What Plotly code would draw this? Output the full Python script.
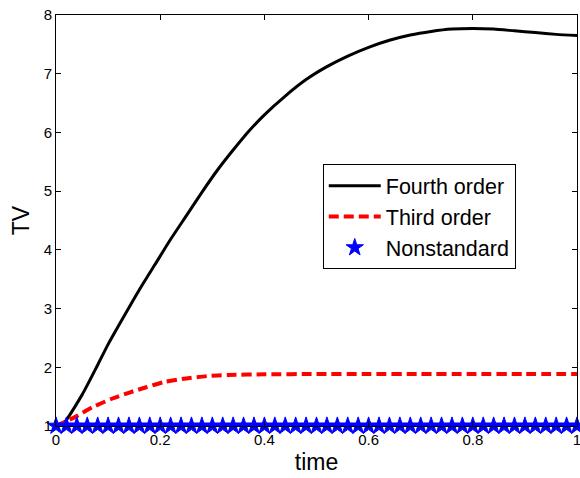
import plotly.graph_objects as go

# Fourth order curve
t4 = [0, 0.012, 0.05, 0.08, 0.10, 0.13, 0.16, 0.19, 0.22, 0.25, 0.28, 0.31, 0.34,
      0.37, 0.40, 0.44, 0.48, 0.52, 0.56, 0.60, 0.64, 0.68, 0.72, 0.76, 0.80,
      0.84, 0.88, 0.92, 0.96, 1.0]
tv4 = [1.0, 1.02, 1.53, 2.04, 2.39, 2.86, 3.32, 3.75, 4.18, 4.58, 4.98, 5.36, 5.70,
       6.02, 6.30, 6.62, 6.90, 7.12, 7.30, 7.45, 7.57, 7.66, 7.72, 7.76, 7.77,
       7.76, 7.73, 7.70, 7.67, 7.65]

# Third order curve
t3 = [0, 0.038, 0.07, 0.106, 0.141, 0.173, 0.208, 0.25, 0.29, 0.33, 0.40,
      0.50, 0.60, 0.70, 0.80, 0.90, 1.0]
tv3 = [1.0, 1.16, 1.32, 1.46, 1.57, 1.66, 1.75, 1.81, 1.85, 1.87, 1.88,
       1.885, 1.885, 1.885, 1.885, 1.885, 1.885]

# Nonstandard scheme
tn = [0.00, 0.02, 0.04, 0.06, 0.08, 0.10, 0.12, 0.14, 0.16, 0.18,
      0.20, 0.22, 0.24, 0.26, 0.28, 0.30, 0.32, 0.34, 0.36, 0.38,
      0.40, 0.42, 0.44, 0.46, 0.48, 0.50, 0.52, 0.54, 0.56, 0.58,
      0.60, 0.62, 0.64, 0.66, 0.68, 0.70, 0.72, 0.74, 0.76, 0.78,
      0.80, 0.82, 0.84, 0.86, 0.88, 0.90, 0.92, 0.94, 0.96, 0.98, 1.00]
tvn = [1, 1, 1, 1, 1, 1, 1, 1, 1, 1,
       1, 1, 1, 1, 1, 1, 1, 1, 1, 1,
       1, 1, 1, 1, 1, 1, 1, 1, 1, 1,
       1, 1, 1, 1, 1, 1, 1, 1, 1, 1,
       1, 1, 1, 1, 1, 1, 1, 1, 1, 1, 1]

x_ticks = [0, 0.2, 0.4, 0.6, 0.8, 1]
x_labels = ["0", "0.2", "0.4", "0.6", "0.8", "1"]
y_ticks = [1, 2, 3, 4, 5, 6, 7, 8]
y_labels = ["1", "2", "3", "4", "5", "6", "7", "8"]

FONT = "Liberation Sans, Arial, Helvetica, sans-serif"

fig = go.Figure()
fig.add_trace(go.Scatter(x=t4, y=tv4, mode="lines", name="Fourth order",
                         line=dict(color="black", width=3, shape="spline", smoothing=0.6)))
fig.add_trace(go.Scatter(x=t3, y=tv3, mode="lines", name="Third order",
                         line=dict(color="red", width=4, dash="10px,5px", shape="spline", smoothing=0.6)))
fig.add_trace(go.Scatter(x=tn, y=tvn, mode="markers", name="Nonstandard", cliponaxis=False,
                         marker=dict(symbol="star", size=13, color="blue",
                                     line=dict(color="blue", width=1))))

axis_common = dict(showline=True, linecolor="black", linewidth=1, mirror="ticks",
                   ticks="inside", ticklen=5, tickwidth=1, tickcolor="black",
                   showgrid=False, zeroline=False, ticklabeloverflow="allow",
                   tickfont=dict(family=FONT, size=15, color="black"))

fig.update_layout(
    width=580, height=478,
    margin=dict(l=56, r=3, t=15, b=52),
    paper_bgcolor="white", plot_bgcolor="white",
    showlegend=True,
    legend=dict(x=0.512, y=0.637, xanchor="left", yanchor="top",
                bgcolor="white", bordercolor="black", borderwidth=1,
                font=dict(family=FONT, size=21.5, color="black"),
                itemwidth=52, tracegroupgap=0),
    xaxis=dict(range=[0, 1], tickvals=x_ticks, ticktext=x_labels,
               title=dict(text="time", font=dict(family=FONT, size=23, color="black"), standoff=6),
               automargin=False, **axis_common),
    yaxis=dict(range=[1, 8], tickvals=y_ticks, ticktext=y_labels,
               title=dict(text="TV", font=dict(family=FONT, size=23, color="black"), standoff=7),
               automargin=False, **axis_common),
)

fig.write_html("out.html", config={"displayModeBar": False},
               post_script="document.body.style.margin='0';document.body.style.overflow='hidden';")
